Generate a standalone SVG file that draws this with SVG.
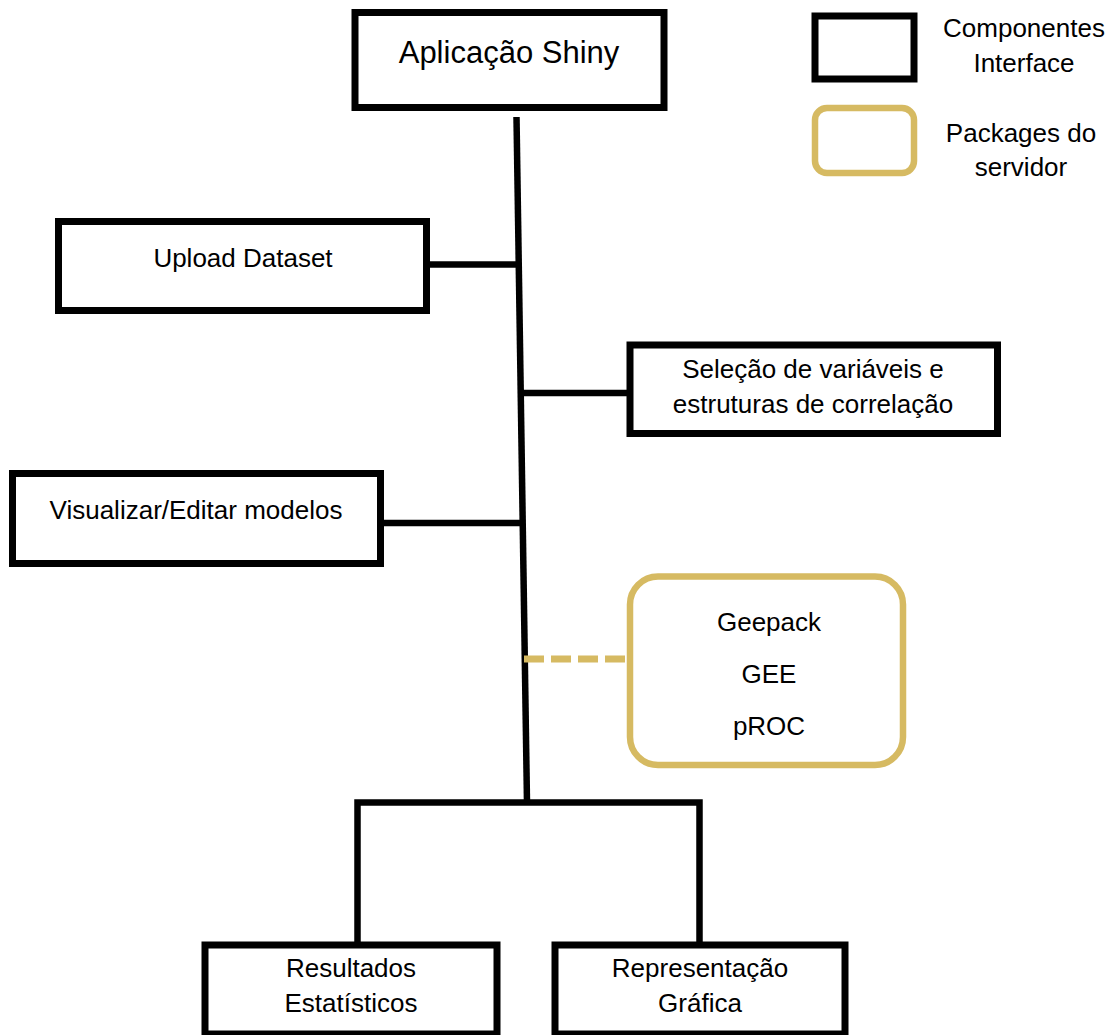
<svg xmlns="http://www.w3.org/2000/svg" width="1118" height="1035" viewBox="0 0 1118 1035">
<style>
.box{fill:#fff;stroke:#000;stroke-width:7}
.pkg{fill:#fff;stroke:#D6BA62;stroke-width:6.5}
.t{font-family:"Liberation Sans",Arial,Helvetica,sans-serif;font-size:26px;fill:#000;text-anchor:middle}
.title{font-size:31px}
.ln{stroke:#000;stroke-width:6.5;fill:none}
.dash{stroke:#D6BA62;stroke-width:7;stroke-dasharray:20 7;fill:none}
</style>
<rect width="1118" height="1035" fill="#fff"/>
<g id="connectors">
<line class="ln" x1="516.5" y1="117" x2="527" y2="803"/>
<line class="ln" x1="430" y1="264.5" x2="517" y2="264.5"/>
<line class="ln" x1="519" y1="393" x2="627" y2="393"/>
<line class="ln" x1="384" y1="523" x2="522" y2="523"/>
<line class="dash" x1="524" y1="659" x2="627" y2="659"/>
<path class="ln" d="M357.5,945 V802.5 H699.5 V945" stroke-width="7"/>
</g>
<g id="n-shiny">
<rect class="box" x="355" y="12.5" width="309" height="95"/>
<text class="t title" x="509" y="63">Aplicação Shiny</text>
</g>
<g id="legend-interface">
<rect class="box" x="815" y="16" width="99" height="63" stroke-width="6.5"/>
<text class="t" x="1024" y="37">Componentes</text>
<text class="t" x="1024" y="72">Interface</text>
</g>
<g id="legend-packages">
<rect class="pkg" x="815" y="108" width="99" height="65" rx="12"/>
<text class="t" x="1021" y="142">Packages do</text>
<text class="t" x="1021" y="176">servidor</text>
</g>
<g id="n-upload">
<rect class="box" x="58.5" y="221.5" width="368" height="89"/>
<text class="t" x="243" y="267">Upload Dataset</text>
</g>
<g id="n-selecao">
<rect class="box" x="630" y="345" width="367.5" height="88.5"/>
<text class="t" x="813" y="378">Seleção de variáveis e</text>
<text class="t" x="813" y="413">estruturas de correlação</text>
</g>
<g id="n-visualizar">
<rect class="box" x="12.5" y="473.5" width="368" height="90"/>
<text class="t" x="196" y="519">Visualizar/Editar modelos</text>
</g>
<g id="n-packages">
<rect class="pkg" x="630" y="576.5" width="273" height="188.5" rx="28"/>
<text class="t" x="769" y="631">Geepack</text>
<text class="t" x="769" y="683">GEE</text>
<text class="t" x="769" y="735">pROC</text>
</g>
<g id="n-resultados">
<rect class="box" x="205" y="945" width="292" height="89"/>
<text class="t" x="351" y="977">Resultados</text>
<text class="t" x="351" y="1012">Estatísticos</text>
</g>
<g id="n-representacao">
<rect class="box" x="555" y="945" width="290" height="89"/>
<text class="t" x="700" y="977">Representação</text>
<text class="t" x="700" y="1012">Gráfica</text>
</g>
</svg>
